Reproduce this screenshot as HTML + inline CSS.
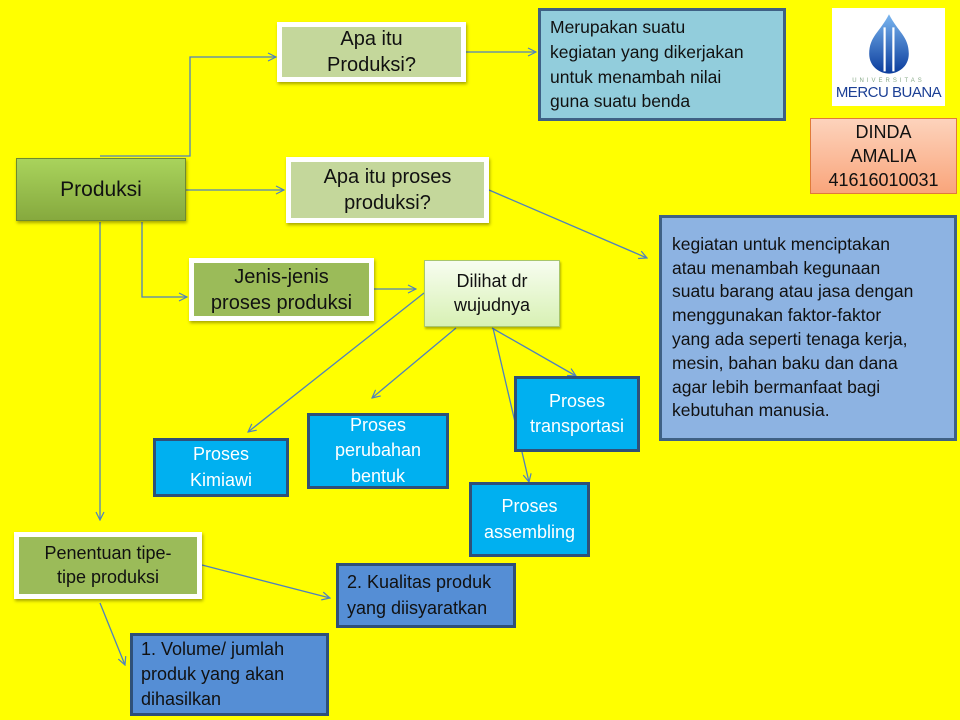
<!DOCTYPE html>
<html><head><meta charset="utf-8"><style>
body{margin:0;width:960px;height:720px;background:#ffff00;position:relative;overflow:hidden;font-family:"Liberation Sans",sans-serif;color:#111}
.b{position:absolute;box-sizing:border-box;display:flex;align-items:center;justify-content:center;text-align:center;line-height:1.3}
.w{border:5px solid #fff;box-shadow:1px 2px 3px rgba(0,0,0,.35);background:#c4d79b;font-size:20px}
.g{background:#9bbb59}
.c{background:#00b0f0;border:3px solid #2f5078;color:#fff;font-size:18px;line-height:1.4}
.d{background:#558ed5;border:3px solid #2f5078;font-size:18px;justify-content:flex-start;text-align:left;padding-left:8px;line-height:1.4}
svg{position:absolute;left:0;top:0}
</style></head><body>
<svg width="960" height="720">
<defs><marker id="a" markerWidth="10" markerHeight="10" refX="9" refY="5" orient="auto" markerUnits="userSpaceOnUse"><path d="M1,1 L9,5 L1,9" fill="none" stroke="#4f81bd" stroke-width="1.2"/></marker></defs>
<g stroke="#4f81bd" stroke-width="1.3" fill="none" marker-end="url(#a)">
<polyline points="100,156 190,156 190,57 276,57"/>
<line x1="186" y1="190" x2="284" y2="190"/>
<polyline points="100,222 100,520"/>
<polyline points="142,222 142,297 187,297"/>
<line x1="466" y1="52" x2="536" y2="52"/>
<line x1="489" y1="190" x2="647" y2="258"/>
<line x1="374" y1="289" x2="416" y2="289"/>
<line x1="424" y1="293" x2="248" y2="432"/>
<line x1="456" y1="328" x2="372" y2="398"/>
<line x1="492" y1="328" x2="576" y2="376"/>
<line x1="493" y1="328" x2="529" y2="482"/>
<line x1="202" y1="565" x2="330" y2="598"/>
<line x1="100" y1="603" x2="125" y2="665"/>
</g></svg>
<div class="b w" style="left:277px;top:22px;width:189px;height:60px">Apa itu<br>Produksi?</div>
<div class="b" style="left:538px;top:8px;width:248px;height:113px;background:#92cddc;border:3px solid #3f6185;font-size:17.5px;justify-content:flex-start;text-align:left;padding-left:9px;line-height:1.42">Merupakan suatu<br>kegiatan yang dikerjakan<br>untuk menambah nilai<br>guna suatu benda</div>
<div class="b" style="left:832px;top:8px;width:113px;height:98px;background:#fff;flex-direction:column">
<svg width="70" height="66" viewBox="0 0 60 60" style="position:static"><defs><linearGradient id="l" x1="0" y1="0" x2="0" y2="1"><stop offset="0" stop-color="#7ab6f0"/><stop offset="1" stop-color="#0b3c9c"/></linearGradient></defs><path d="M30 2 C22 18 12 22 12 38 C12 50 22 56 30 56 C38 56 48 50 48 38 C48 22 38 18 30 2Z" fill="url(#l)"/><path d="M26 14 L26 54 M34 14 L34 54" stroke="#fff" stroke-width="2"/></svg>
<div style="font-size:6px;color:#8a8;letter-spacing:3px;line-height:1">UNIVERSITAS</div>
<div style="font-size:15px;color:#1b3f95;line-height:1.2;letter-spacing:-0.5px">MERCU BUANA</div></div>
<div class="b" style="left:810px;top:118px;width:147px;height:76px;background:linear-gradient(#fdd3bc,#f9a57b);border:1px solid #e07a3a;font-size:18px;line-height:1.35">DINDA<br>AMALIA<br>41616010031</div>
<div class="b" style="left:16px;top:158px;width:170px;height:63px;background:linear-gradient(#a9d35c,#86a93e);border:1px solid #6e8a30;box-shadow:1px 2px 3px rgba(0,0,0,.35);font-size:21px">Produksi</div>
<div class="b w" style="left:286px;top:157px;width:203px;height:66px">Apa itu proses<br>produksi?</div>
<div class="b" style="left:659px;top:215px;width:298px;height:226px;background:#8db3e2;border:3px solid #3f6185;font-size:17.5px;justify-content:flex-start;text-align:left;padding-left:10px;line-height:1.36">kegiatan untuk menciptakan<br>atau menambah kegunaan<br>suatu barang atau jasa dengan<br>menggunakan faktor-faktor<br>yang ada seperti tenaga kerja,<br>mesin, bahan baku dan dana<br>agar lebih bermanfaat bagi<br>kebutuhan manusia.</div>
<div class="b w g" style="left:189px;top:258px;width:185px;height:63px">Jenis-jenis<br>proses produksi</div>
<div class="b" style="left:424px;top:260px;width:136px;height:67px;background:linear-gradient(#f7fdf0,#d8f1b4);border:1px solid #a8c66b;box-shadow:1px 2px 2px rgba(0,0,0,.3);font-size:18px">Dilihat dr<br>wujudnya</div>
<div class="b c" style="left:153px;top:438px;width:136px;height:59px">Proses<br>Kimiawi</div>
<div class="b c" style="left:307px;top:413px;width:142px;height:76px">Proses<br>perubahan<br>bentuk</div>
<div class="b c" style="left:514px;top:376px;width:126px;height:76px">Proses<br>transportasi</div>
<div class="b c" style="left:469px;top:482px;width:121px;height:75px">Proses<br>assembling</div>
<div class="b w g" style="left:14px;top:532px;width:188px;height:67px;font-size:18px">Penentuan tipe-<br>tipe produksi</div>
<div class="b d" style="left:336px;top:563px;width:180px;height:65px">2. Kualitas produk<br>yang diisyaratkan</div>
<div class="b d" style="left:130px;top:633px;width:199px;height:83px">1. Volume/ jumlah<br>produk yang akan<br>dihasilkan</div>
</body></html>
